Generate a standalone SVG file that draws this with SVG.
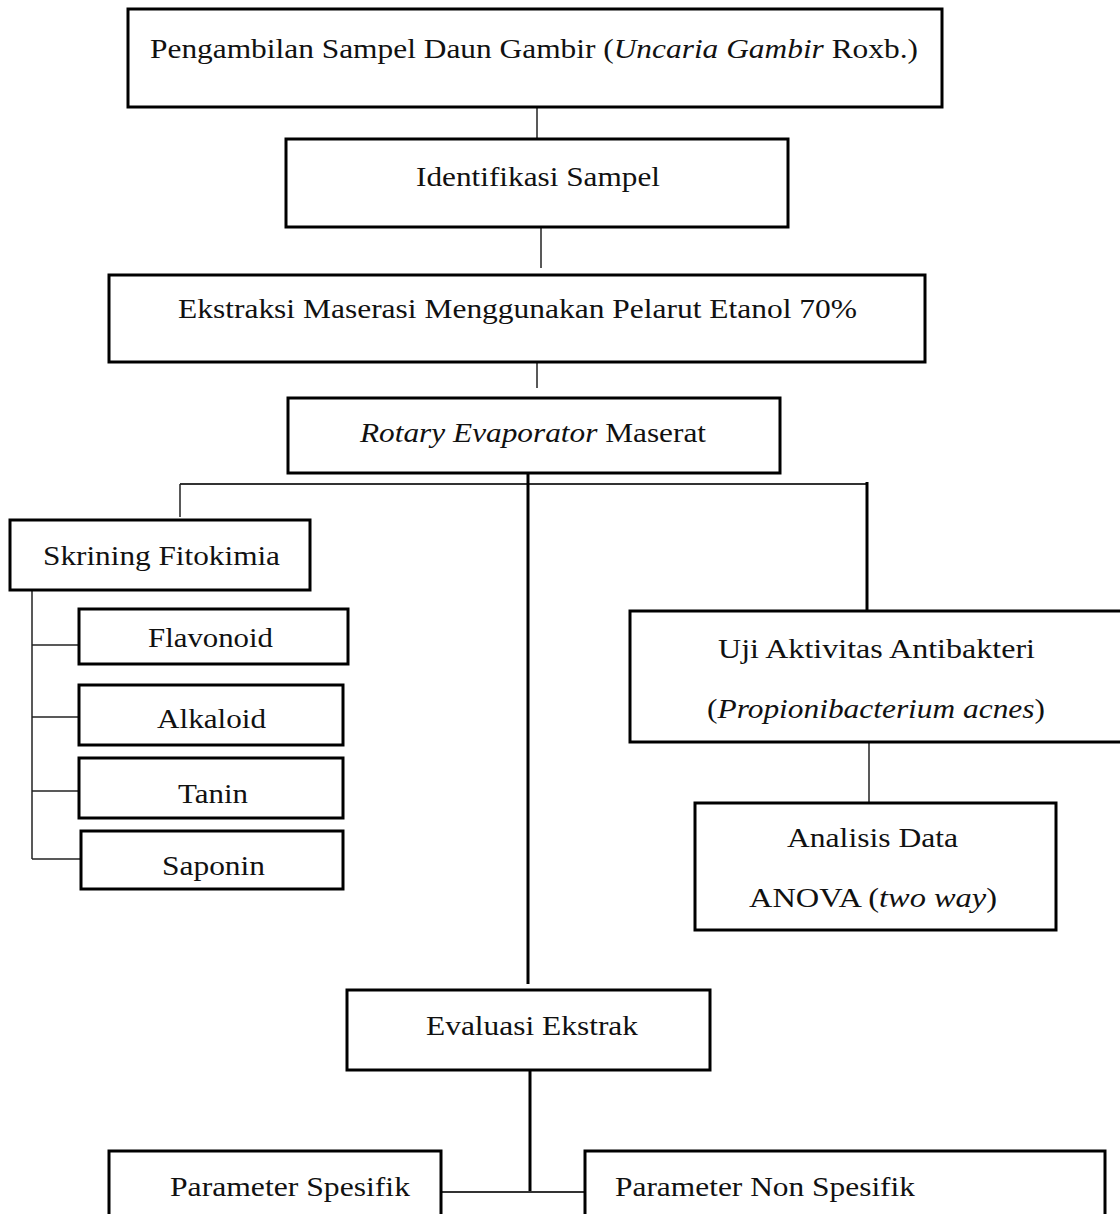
<svg xmlns="http://www.w3.org/2000/svg" width="1120" height="1214" viewBox="0 0 1120 1214">
<style>
.box{fill:#fff;stroke:#000;stroke-width:3}
text{font-family:'Liberation Serif','Times New Roman',Times,serif;font-size:28px;fill:#111}
.thin{stroke:#222;stroke-width:1.5;fill:none}
.thick{stroke:#000;stroke-width:3;fill:none}
.mid{stroke:#333;stroke-width:2;fill:none}
</style>
<rect width="1120" height="1214" fill="#fff"/>
<g id="connectors">
<line class="thin" x1="537" y1="107" x2="537" y2="140"/>
<line class="thin" x1="541" y1="227" x2="541" y2="268"/>
<line class="thin" x1="537" y1="362" x2="537" y2="388"/>
<line class="mid" x1="180" y1="484" x2="867" y2="484"/>
<line class="thin" x1="180" y1="484" x2="180" y2="517"/>
<line class="thick" x1="528" y1="473" x2="528" y2="984"/>
<line class="thick" x1="867" y1="482" x2="867" y2="613"/>
<line class="thin" x1="32" y1="590" x2="32" y2="859"/>
<line class="thin" x1="32" y1="645" x2="80" y2="645"/>
<line class="thin" x1="32" y1="717" x2="80" y2="717"/>
<line class="thin" x1="32" y1="791" x2="80" y2="791"/>
<line class="thin" x1="32" y1="859" x2="82" y2="859"/>
<line class="thin" x1="869" y1="742" x2="869" y2="803"/>
<line class="thick" x1="530" y1="1070" x2="530" y2="1193"/>
<line class="mid" x1="441" y1="1192" x2="585" y2="1192"/>
</g>
<g font-family="Liberation Serif">
<g id="n1"><rect class="box" x="128" y="9" width="814" height="98"/>
<text x="150" y="58" textLength="768" lengthAdjust="spacingAndGlyphs">Pengambilan Sampel Daun Gambir (<tspan font-style="italic">Uncaria Gambir</tspan> Roxb.)</text></g>
<g id="n2"><rect class="box" x="286" y="139" width="502" height="88"/>
<text x="416" y="186" textLength="244" lengthAdjust="spacingAndGlyphs">Identifikasi Sampel</text></g>
<g id="n3"><rect class="box" x="109" y="275" width="816" height="87"/>
<text x="178" y="318" textLength="679" lengthAdjust="spacingAndGlyphs">Ekstraksi Maserasi Menggunakan Pelarut Etanol 70%</text></g>
<g id="n4"><rect class="box" x="288" y="398" width="492" height="75"/>
<text x="360" y="442" textLength="346" lengthAdjust="spacingAndGlyphs"><tspan font-style="italic">Rotary Evaporator</tspan> Maserat</text></g>
<g id="n5"><rect class="box" x="10" y="520" width="300" height="70"/>
<text x="43" y="565" textLength="237" lengthAdjust="spacingAndGlyphs">Skrining Fitokimia</text></g>
<g id="n6"><rect class="box" x="79" y="609" width="269" height="55"/>
<text x="148" y="647" textLength="125" lengthAdjust="spacingAndGlyphs">Flavonoid</text></g>
<g id="n7"><rect class="box" x="79" y="685" width="264" height="60"/>
<text x="157" y="728" textLength="109" lengthAdjust="spacingAndGlyphs">Alkaloid</text></g>
<g id="n8"><rect class="box" x="79" y="758" width="264" height="60"/>
<text x="178" y="803" textLength="70" lengthAdjust="spacingAndGlyphs">Tanin</text></g>
<g id="n9"><rect class="box" x="81" y="831" width="262" height="58"/>
<text x="162" y="875" textLength="103" lengthAdjust="spacingAndGlyphs">Saponin</text></g>
<g id="n10"><rect class="box" x="630" y="611" width="495" height="131"/>
<text x="718" y="658" textLength="317" lengthAdjust="spacingAndGlyphs">Uji Aktivitas Antibakteri</text>
<text x="707" y="718" textLength="338" lengthAdjust="spacingAndGlyphs">(<tspan font-style="italic">Propionibacterium  acnes</tspan>)</text></g>
<g id="n11"><rect class="box" x="695" y="803" width="361" height="127"/>
<text x="787" y="847" textLength="171" lengthAdjust="spacingAndGlyphs">Analisis Data</text>
<text x="749" y="907" textLength="248" lengthAdjust="spacingAndGlyphs">ANOVA (<tspan font-style="italic">two way</tspan>)</text></g>
<g id="n12"><rect class="box" x="347" y="990" width="363" height="80"/>
<text x="426" y="1035" textLength="212" lengthAdjust="spacingAndGlyphs">Evaluasi Ekstrak</text></g>
<g id="n13"><rect class="box" x="109" y="1151" width="332" height="80"/>
<text x="170" y="1196" textLength="240" lengthAdjust="spacingAndGlyphs">Parameter Spesifik</text></g>
<g id="n14"><rect class="box" x="585" y="1151" width="520" height="80"/>
<text x="615" y="1196" textLength="300" lengthAdjust="spacingAndGlyphs">Parameter Non Spesifik</text></g>
</g>
</svg>
